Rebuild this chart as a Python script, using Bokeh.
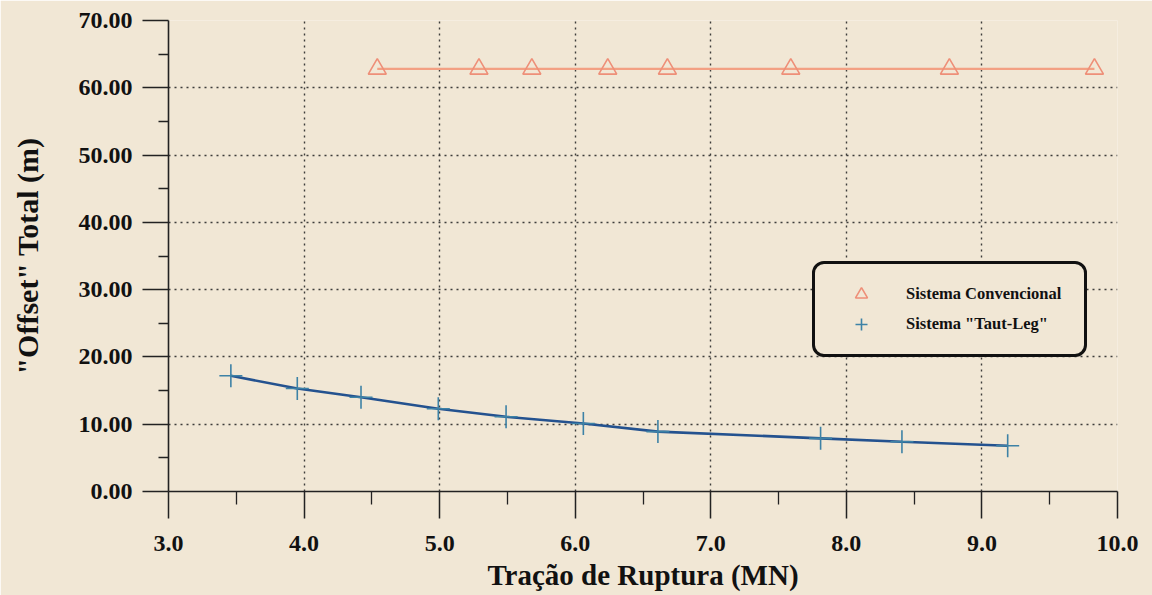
from bokeh.plotting import figure
from bokeh.models import (Legend, LegendItem, FixedTicker, NumeralTickFormatter)
from bokeh.embed import file_html
from bokeh.resources import INLINE

# Data
conv_x = [4.54, 5.29, 5.68, 6.24, 6.68, 7.59, 8.76, 9.83]
conv_y = [62.8, 62.8, 62.8, 62.8, 62.8, 62.8, 62.8, 62.8]
taut_x = [3.46, 3.95, 4.42, 4.99, 5.49, 6.06, 6.61, 7.81, 8.41, 9.19]
taut_y = [17.2, 15.3, 14.0, 12.3, 11.1, 10.1, 8.9, 7.9, 7.4, 6.8]
x_ticks = [3, 4, 5, 6, 7, 8, 9, 10]
y_ticks = [0, 10, 20, 30, 40, 50, 60, 70]
x_minor = [3.5, 4.5, 5.5, 6.5, 7.5, 8.5, 9.5]
y_minor = [5, 15, 25, 35, 45, 55, 65]
series_names = ["Sistema Convencional", 'Sistema "Taut-Leg"']

BG = "#f1e7d5"
FONT = "Liberation Serif"

p = figure(width=1152, height=595, output_backend="svg", toolbar_location=None,
           x_range=(3, 10), y_range=(0, 70),
           min_border_left=168, min_border_right=35, min_border_top=20, min_border_bottom=104)
p.background_fill_color = BG
p.border_fill_color = BG
p.outline_line_color = None

# grids
for g in (p.xgrid, p.ygrid):
    g.grid_line_color = "#2a2a2a"
    g.grid_line_dash = "2 4"
    g.grid_line_width = 1.4
    g.grid_line_alpha = 0.9
p.xgrid.ticker = FixedTicker(ticks=x_ticks)
p.ygrid.ticker = FixedTicker(ticks=y_ticks)

# axes
p.xaxis.ticker = FixedTicker(ticks=x_ticks, minor_ticks=x_minor)
p.yaxis.ticker = FixedTicker(ticks=y_ticks, minor_ticks=y_minor)
p.xaxis.formatter = NumeralTickFormatter(format="0.0")
p.yaxis.formatter = NumeralTickFormatter(format="0.00")
for ax in (p.xaxis[0], p.yaxis[0]):
    ax.axis_line_color = "#222222"
    ax.axis_line_width = 1.6
    ax.major_tick_line_color = "#222222"
    ax.minor_tick_line_color = "#222222"
    ax.major_tick_line_width = 1.5
    ax.minor_tick_line_width = 1.3
    ax.major_tick_in = 0
    ax.minor_tick_in = 0
    ax.major_label_text_font = FONT
    ax.major_label_text_font_style = "bold"
    ax.major_label_text_font_size = "24px"
    ax.major_label_text_color = "#111111"
    ax.axis_label_text_font = FONT
    ax.axis_label_text_font_style = "bold"
    ax.axis_label_text_color = "#111111"

p.xaxis.major_tick_out = 27
p.xaxis.minor_tick_out = 13
p.xaxis.major_label_standoff = 17
p.xaxis.axis_label = "Tração de Ruptura (MN)"
p.xaxis.axis_label_text_font_size = "29px"
p.xaxis.axis_label_standoff = 5

p.yaxis.major_tick_out = 26
p.yaxis.minor_tick_out = 10
p.yaxis.major_label_standoff = 10
p.yaxis.axis_label = '"Offset" Total (m)'
p.yaxis.axis_label_text_font_size = "30px"
p.yaxis.axis_label_standoff = 32

# conventional series
p.line(conv_x, conv_y, line_color="#f3a083", line_width=2.2)
r_conv = p.scatter(conv_x, conv_y, marker="triangle", size=18, fill_color=None,
                   line_color="#ee8f78", line_width=1.6)

# taut-leg series
p.line(taut_x, taut_y, line_color="#24528f", line_width=2.6)
r_taut = p.scatter(taut_x, taut_y, marker="cross", size=23,
                   line_color="#3d82a6", line_width=1.6)

legend = Legend(items=[LegendItem(label=series_names[0], renderers=[r_conv]),
                       LegendItem(label=series_names[1], renderers=[r_taut])],
                location=(644, 134))
legend.background_fill_color = BG
legend.background_fill_alpha = 1.0
legend.border_line_color = "#111111"
legend.border_line_alpha = 1.0
legend.border_line_width = 3
legend.padding = 15
legend.margin = 0
legend.spacing = 0
legend.glyph_width = 62
legend.glyph_height = 30
legend.label_height = 30
legend.label_width = 163
legend.label_standoff = 14
legend.label_text_font = FONT
legend.label_text_font_style = "bold"
legend.label_text_font_size = "16.5px"
legend.label_text_color = "#111111"
if "border_radius" in Legend.properties():
    legend.border_radius = 12
p.add_layout(legend)

open("out.html", "w").write(file_html(p, INLINE))
